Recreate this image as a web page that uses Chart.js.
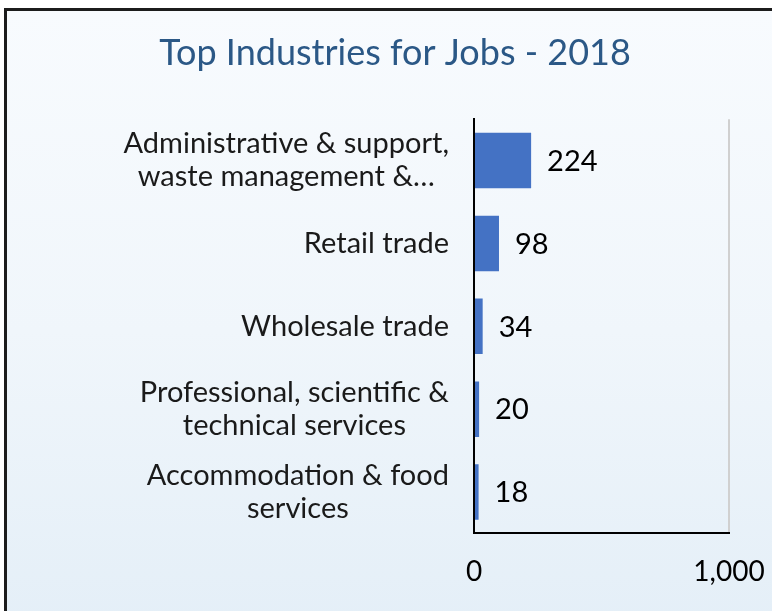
<!DOCTYPE html>
<html>
<head>
<meta charset="utf-8">
<script src="https://cdn.jsdelivr.net/npm/chart.js@4"></script>
<style>
    body { margin: 0; background: #fff; }
    .frame {
        position: absolute; left: 4px; top: 8px; width: 800px; height: 640px;
        border: 3px solid #1c1c1c;
        background: linear-gradient(to bottom, #f8fbfe 0%, #f0f6fb 50%, #e3eef7 100%);
    }
    .chart-box { position: absolute; left: 0; top: 0; width: 772px; height: 611px; }
</style>
</head>
<body>
<div class="frame"></div>
<div class="chart-box"><canvas id="jobs-chart"></canvas></div>
<script>
// DATA
var categories = [
    ["Administrative & support,", "waste management &\u2026"],
    ["Retail trade"],
    ["Wholesale trade"],
    ["Professional, scientific &", "technical services"],
    ["Accommodation & food", "services"]
];
var jobs = [224, 98, 34, 20, 18];
var xTicks = [0, 1000];

var labelFont = "Lato";

// y labels: block right-aligned to the axis, lines centered inside the block
var categoryLabels = {
    id: "categoryLabels",
    afterDraw: function (chart) {
        var ctx = chart.ctx;
        var yScale = chart.scales.y;
        var right = chart.chartArea.left - 25;
        ctx.save();
        ctx.font = "29px " + labelFont;
        ctx.fillStyle = "#1a1a1a";
        ctx.textAlign = "center";
        ctx.textBaseline = "middle";
        categories.forEach(function (lines, i) {
            var y = yScale.getPixelForTick(i);
            var widest = 0;
            lines.forEach(function (l) {
                widest = Math.max(widest, ctx.measureText(l).width);
            });
            var cx = right - widest / 2;
            var lh = 33;
            var top = y - (lines.length - 1) * lh / 2;
            lines.forEach(function (l, j) {
                ctx.fillText(l, cx, top + j * lh);
            });
        });
        ctx.restore();
    }
};

// value labels at the end of each bar
var valueLabels = {
    id: "valueLabels",
    afterDatasetsDraw: function (chart) {
        var ctx = chart.ctx;
        var meta = chart.getDatasetMeta(0);
        ctx.save();
        ctx.font = "29px " + labelFont;
        ctx.fillStyle = "#000";
        ctx.textAlign = "left";
        ctx.textBaseline = "middle";
        meta.data.forEach(function (bar, i) {
            ctx.fillText(String(jobs[i]), bar.x + 16, bar.y + 1);
        });
        ctx.restore();
    }
};

var ctx = document.getElementById("jobs-chart");
var myChart = new Chart(ctx, {
    type: "bar",
    plugins: [categoryLabels, valueLabels],
    data: {
        labels: categories,
        datasets: [
            {
                label: "Jobs",
                data: jobs,
                backgroundColor: "#4472c4",
                borderWidth: 0,
                barPercentage: 0.67,
                categoryPercentage: 1,
            },
        ],
    },
    options: {
        indexAxis: "y",
        responsive: true,
        maintainAspectRatio: false,
        animation: false,
        layout: {
            padding: { left: 26, right: 8, top: 0, bottom: 0 },
        },
        plugins: {
            legend: { display: false },
            tooltip: { enabled: false },
            title: {
                display: true,
                text: "Top Industries for Jobs - 2018",
                color: "#2b5886",
                font: { family: labelFont, size: 36, weight: "normal" },
                padding: { top: 32, bottom: 44 },
            },
        },
        scales: {
            x: {
                min: xTicks[0],
                max: xTicks[xTicks.length - 1],
                afterBuildTicks: function (scale) {
                    scale.ticks = xTicks.map(function (v) { return { value: v }; });
                },
                afterFit: function (scale) {
                    scale.paddingRight = 43;
                },
                ticks: {
                    color: "#000",
                    padding: 22,
                    maxRotation: 0,
                    font: { family: labelFont, size: 28 },
                    callback: function (v) { return v.toLocaleString("en-US"); },
                },
                grid: {
                    drawTicks: false,
                    color: function (c) { return c.tick && c.tick.value === 0 ? "rgba(0,0,0,0)" : "#d0d0d0"; },
                    lineWidth: 2,
                },
                border: { color: "#000", width: 2 },
            },
            y: {
                afterFit: function (scale) {
                    scale.width = 448;
                },
                ticks: { display: false },
                grid: { display: false, drawTicks: false },
                border: { color: "#000", width: 2 },
            },
        },
    },
});
</script>
</body>
</html>
